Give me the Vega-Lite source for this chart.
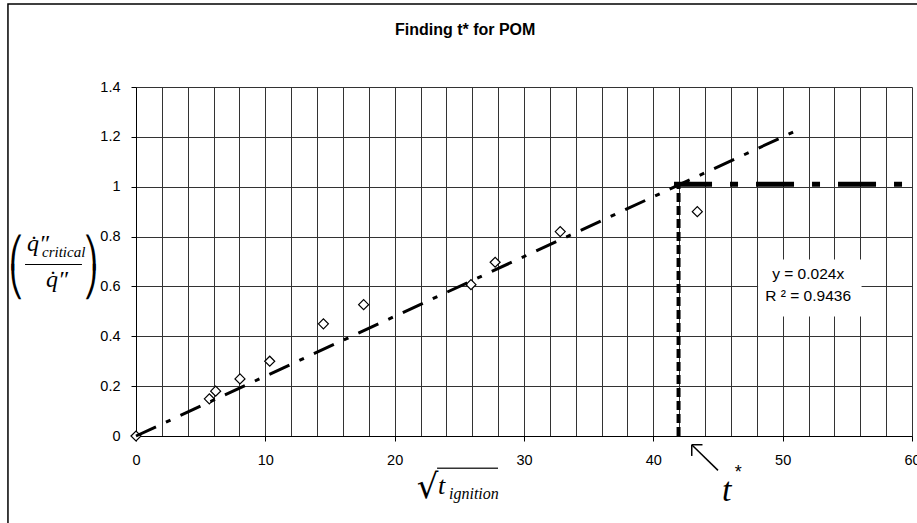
{
  "$schema": "https://vega.github.io/schema/vega-lite/v6.json",
  "autosize": "none",
  "width": 776,
  "height": 349,
  "padding": {"left": 136, "top": 87, "right": 5, "bottom": 87},
  "background": "white",
  "config": {"view": {"stroke": null}},
  "data": {"values": [{}]},
  "datasets": {
    "points": [
      {"x": 0, "y": 0},
      {"x": 5.67, "y": 0.149},
      {"x": 6.16, "y": 0.18},
      {"x": 8.04, "y": 0.229},
      {"x": 10.34, "y": 0.30},
      {"x": 14.49, "y": 0.45},
      {"x": 17.6, "y": 0.527},
      {"x": 25.9, "y": 0.607},
      {"x": 27.77, "y": 0.697},
      {"x": 32.8, "y": 0.82},
      {"x": 43.4, "y": 0.90}
    ],
    "fit": [
      {"x": 0, "y": 0},
      {"x": 51.3, "y": 1.231}
    ],
    "arrow": [
      {"x": 45.0, "y": -0.138, "x2": 42.97, "y2": -0.035},
      {"x": 42.97, "y": -0.035, "x2": 43.8, "y2": -0.035},
      {"x": 42.97, "y": -0.035, "x2": 42.97, "y2": -0.08}
    ]
  },
  "layer": [
    {
      "mark": {"type": "rect", "filled": false, "stroke": "black", "strokeWidth": 1.5},
      "encoding": {
        "x": {"datum": -9.9, "type": "quantitative"},
        "x2": {"datum": 75},
        "y": {"datum": 1.733, "type": "quantitative"},
        "y2": {"datum": -1}
      }
    },
    {
      "data": {"name": "points"},
      "mark": {"type": "point", "shape": "diamond", "filled": true, "fill": "white", "stroke": "black", "strokeWidth": 1.2, "size": 100, "opacity": 1},
      "encoding": {
        "x": {
          "field": "x", "type": "quantitative",
          "scale": {"domain": [0, 60], "nice": false, "zero": false},
          "axis": {
            "title": null,
            "values": [0, 2, 4, 6, 8, 10, 12, 14, 16, 18, 20, 22, 24, 26, 28, 30, 32, 34, 36, 38, 40, 42, 44, 46, 48, 50, 52, 54, 56, 58, 60],
            "tickCount": 100,
            "format": "d",
            "labelExpr": "datum.value % 10 === 0 ? datum.label : ''",
            "labelOverlap": false, "labelFlush": false,
            "labelFont": "Liberation Sans", "labelFontSize": 14.5, "labelColor": "black", "labelPadding": 12,
            "tickColor": "black", "tickSize": 5,
            "tickOpacity": {"condition": {"test": "datum.value % 10 === 0", "value": 1}, "value": 0},
            "domainColor": "black", "domainWidth": 1,
            "grid": true, "gridColor": "#333", "gridWidth": 1, "gridOpacity": 1
          }
        },
        "y": {
          "field": "y", "type": "quantitative",
          "scale": {"domain": [0, 1.4], "nice": false, "zero": false},
          "axis": {
            "title": null,
            "values": [0, 0.2, 0.4, 0.6, 0.8, 1, 1.2, 1.4],
            "tickCount": 100,
            "format": ".1~f",
            "labelFont": "Liberation Sans", "labelFontSize": 14.5, "labelColor": "black", "labelPadding": 11,
            "tickColor": "black", "tickSize": 5,
            "domainColor": "black", "domainWidth": 1,
            "grid": true, "gridColor": "#333", "gridWidth": 1, "gridOpacity": 1
          }
        }
      }
    },
    {
      "data": {"name": "fit"},
      "mark": {"type": "line", "color": "black", "strokeWidth": 3, "strokeDash": [22, 11, 5, 11]},
      "encoding": {
        "x": {"field": "x", "type": "quantitative"},
        "y": {"field": "y", "type": "quantitative"}
      }
    },
    {
      "mark": {"type": "rule", "color": "black", "strokeWidth": 4, "strokeDash": [9, 4]},
      "encoding": {
        "x": {"datum": 41.95, "type": "quantitative"},
        "y": {"datum": 0, "type": "quantitative"},
        "y2": {"datum": 1.01}
      }
    },
    {
      "mark": {"type": "rule", "color": "black", "strokeWidth": 5, "strokeDash": [38, 18, 8, 18]},
      "encoding": {
        "x": {"datum": 41.6, "type": "quantitative"},
        "x2": {"datum": 59.6},
        "y": {"datum": 1.01, "type": "quantitative"}
      }
    },
    {
      "mark": {"type": "rect", "fill": "white", "stroke": null},
      "encoding": {
        "x": {"datum": 48.1, "type": "quantitative"},
        "x2": {"datum": 56.1},
        "y": {"datum": 0.708, "type": "quantitative"},
        "y2": {"datum": 0.479}
      }
    },
    {
      "mark": {"type": "text", "font": "Liberation Sans", "fontSize": 15.5, "color": "black", "align": "center", "baseline": "middle"},
      "encoding": {
        "x": {"datum": 51.97, "type": "quantitative"},
        "y": {"datum": 0.648, "type": "quantitative"},
        "text": {"value": "y = 0.024x"}
      }
    },
    {
      "mark": {"type": "text", "font": "Liberation Sans", "fontSize": 15.5, "color": "black", "align": "center", "baseline": "middle"},
      "encoding": {
        "x": {"datum": 51.97, "type": "quantitative"},
        "y": {"datum": 0.562, "type": "quantitative"},
        "text": {"value": "R ² = 0.9436"}
      }
    },
    {
      "mark": {"type": "text", "font": "Liberation Sans", "fontSize": 16, "fontWeight": "bold", "color": "black", "align": "center", "baseline": "alphabetic"},
      "encoding": {
        "x": {"datum": 25.45, "type": "quantitative"},
        "y": {"datum": 1.607, "type": "quantitative"},
        "text": {"value": "Finding t* for POM"}
      }
    },
    {
      "data": {"name": "arrow"},
      "mark": {"type": "rule", "color": "black", "strokeWidth": 1.5},
      "encoding": {
        "x": {"field": "x", "type": "quantitative"},
        "y": {"field": "y", "type": "quantitative"},
        "x2": {"field": "x2"},
        "y2": {"field": "y2"}
      }
    },
    {
      "mark": {"type": "text", "font": "Liberation Serif", "fontStyle": "italic", "fontSize": 34, "color": "black", "align": "left", "baseline": "alphabetic"},
      "encoding": {
        "x": {"datum": 45.3, "type": "quantitative"},
        "y": {"datum": -0.259, "type": "quantitative"},
        "text": {"value": "t"}
      }
    },
    {
      "mark": {"type": "text", "font": "Liberation Sans", "fontSize": 18, "color": "black", "align": "left", "baseline": "alphabetic"},
      "encoding": {
        "x": {"datum": 46.3, "type": "quantitative"},
        "y": {"datum": -0.17, "type": "quantitative"},
        "text": {"value": "*"}
      }
    },
    {
      "mark": {"type": "text", "font": "DejaVu Serif", "fontSize": 34, "color": "black", "align": "center", "baseline": "alphabetic"},
      "encoding": {
        "x": {"datum": 22.54, "type": "quantitative"},
        "y": {"datum": -0.25, "type": "quantitative"},
        "text": {"value": "√"}
      }
    },
    {
      "mark": {"type": "rule", "color": "#333", "strokeWidth": 1.5},
      "encoding": {
        "x": {"datum": 23.28, "type": "quantitative"},
        "x2": {"datum": 27.99},
        "y": {"datum": -0.129, "type": "quantitative"}
      }
    },
    {
      "mark": {"type": "text", "font": "Liberation Serif", "fontStyle": "italic", "fontSize": 26, "color": "black", "align": "left", "baseline": "alphabetic"},
      "encoding": {
        "x": {"datum": 23.36, "type": "quantitative"},
        "y": {"datum": -0.231, "type": "quantitative"},
        "text": {"value": "t"}
      }
    },
    {
      "mark": {"type": "text", "font": "Liberation Serif", "fontStyle": "italic", "fontSize": 16, "color": "black", "align": "left", "baseline": "alphabetic"},
      "encoding": {
        "x": {"datum": 24.2, "type": "quantitative"},
        "y": {"datum": -0.251, "type": "quantitative"},
        "text": {"value": "ignition"}
      }
    },
    {
      "mark": {"type": "text", "font": "DejaVu Sans", "fontSize": 30, "color": "black", "align": "center", "baseline": "middle", "lineHeight": 29},
      "encoding": {
        "x": {"datum": -9.28, "type": "quantitative"},
        "y": {"datum": 0.729, "type": "quantitative"},
        "text": {"value": ["⎛", "⎝"]}
      }
    },
    {
      "mark": {"type": "text", "font": "DejaVu Sans", "fontSize": 30, "color": "black", "align": "center", "baseline": "middle", "lineHeight": 29},
      "encoding": {
        "x": {"datum": -3.48, "type": "quantitative"},
        "y": {"datum": 0.729, "type": "quantitative"},
        "text": {"value": ["⎞", "⎠"]}
      }
    },
    {
      "mark": {"type": "text", "font": "Liberation Serif", "fontStyle": "italic", "fontSize": 24, "color": "black", "align": "left", "baseline": "alphabetic"},
      "encoding": {
        "x": {"datum": -8.43, "type": "quantitative"},
        "y": {"datum": 0.741, "type": "quantitative"},
        "text": {"value": "q̇″"}
      }
    },
    {
      "mark": {"type": "text", "font": "Liberation Serif", "fontStyle": "italic", "fontSize": 15, "color": "black", "align": "left", "baseline": "alphabetic"},
      "encoding": {
        "x": {"datum": -7.27, "type": "quantitative"},
        "y": {"datum": 0.72, "type": "quantitative"},
        "text": {"value": "critical"}
      }
    },
    {
      "mark": {"type": "rule", "color": "black", "strokeWidth": 1.2},
      "encoding": {
        "x": {"datum": -8.58, "type": "quantitative"},
        "x2": {"datum": -4.18},
        "y": {"datum": 0.688, "type": "quantitative"}
      }
    },
    {
      "mark": {"type": "text", "font": "Liberation Serif", "fontStyle": "italic", "fontSize": 24, "color": "black", "align": "center", "baseline": "alphabetic"},
      "encoding": {
        "x": {"datum": -6.11, "type": "quantitative"},
        "y": {"datum": 0.599, "type": "quantitative"},
        "text": {"value": "q̇″"}
      }
    }
  ]
}
